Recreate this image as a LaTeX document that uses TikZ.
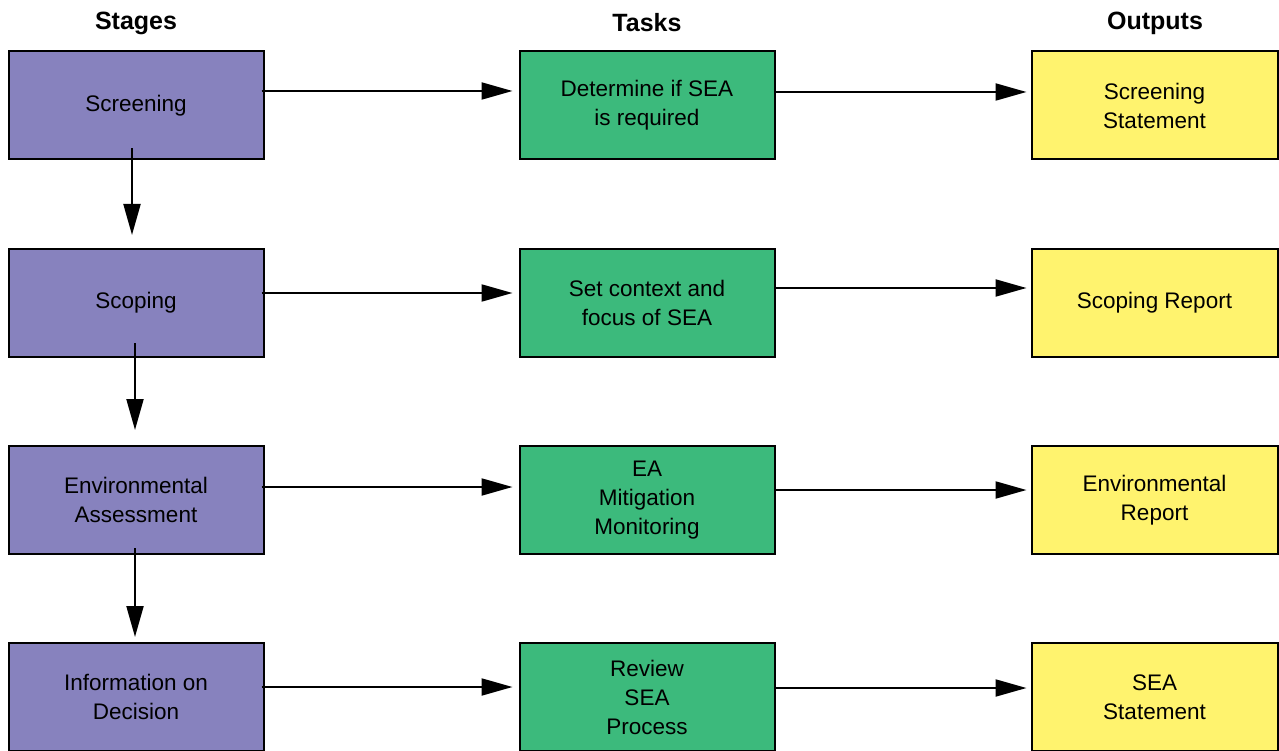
\documentclass[tikz,border=0pt]{standalone}
\usepackage{fontspec}
\setmainfont{Liberation Sans}
\usetikzlibrary{arrows.meta}
\definecolor{stagecol}{RGB}{135,130,190}
\definecolor{taskcol}{RGB}{60,186,124}
\definecolor{outcol}{RGB}{255,243,110}
\tikzset{
  box/.style={draw=black, line width=2pt, minimum height=108pt, inner sep=0pt, align=center,
    font=\fontsize{22.5}{29}\selectfont},
  stagebox/.style={box, fill=stagecol, minimum width=255pt},
  taskbox/.style={box, fill=taskcol, minimum width=255pt},
  outbox/.style={box, fill=outcol, minimum width=246pt},
  header/.style={font=\fontsize{25}{30}\selectfont\bfseries},
  arr/.style={line width=2pt, -{Triangle[length=31pt,width=17pt]}}
}
\begin{document}
\begin{tikzpicture}[x=1pt,y=-1pt]
\clip (0,0) rectangle (1279,751);
\fill[white] (0,0) rectangle (1279,751);
% headers
\node[header] (h1) at (136,23) {Stages};
\node[header] (h2) at (647,23) {Tasks};
\node[header] (h3) at (1155,23) {Outputs};
% stage boxes
\node[stagebox] (s1) at (136,105.5) {Screening};
\node[stagebox] (s2) at (136,303) {Scoping};
\node[stagebox] (s3) at (136,500) {Environmental\\Assessment};
\node[stagebox] (s4) at (136,697) {Information on\\Decision};
% task boxes
\node[taskbox] (t1) at (647,105.5) {Determine if SEA\\is required};
\node[taskbox] (t2) at (647,303) {Set context and\\focus of SEA};
\node[taskbox] (t3) at (647,500) {EA\\Mitigation\\Monitoring};
\node[taskbox] (t4) at (647,697) {Review\\SEA\\Process};
% output boxes
\node[outbox] (o1) at (1154.5,105.5) {Screening\\Statement};
\node[outbox] (o2) at (1154.5,303) {Scoping Report};
\node[outbox] (o3) at (1154.5,500) {Environmental\\Report};
\node[outbox] (o4) at (1154.5,697) {SEA\\Statement};
% stage -> task
\draw[arr] ([xshift=-3pt,yshift=14.5pt]s1.east) -- ([xshift=-6pt,yshift=14.5pt]t1.west);
\draw[arr] ([xshift=-3pt,yshift=10pt]s2.east) -- ([xshift=-6pt,yshift=10pt]t2.west);
\draw[arr] ([xshift=-3pt,yshift=13pt]s3.east) -- ([xshift=-6pt,yshift=13pt]t3.west);
\draw[arr] ([xshift=-3pt,yshift=10pt]s4.east) -- ([xshift=-6pt,yshift=10pt]t4.west);
% task -> output
\draw[arr] ([yshift=13.5pt]t1.east) -- ([xshift=-4pt,yshift=13.5pt]o1.west);
\draw[arr] ([yshift=15pt]t2.east) -- ([xshift=-4pt,yshift=15pt]o2.west);
\draw[arr] ([yshift=10pt]t3.east) -- ([xshift=-4pt,yshift=10pt]o3.west);
\draw[arr] ([yshift=9pt]t4.east) -- ([xshift=-4pt,yshift=9pt]o4.west);
% stage -> stage
\draw[arr] ([xshift=-4pt,yshift=12pt]s1.south) -- ([xshift=-4pt,yshift=13pt]s2.north);
\draw[arr] ([xshift=-1pt,yshift=15pt]s2.south) -- ([xshift=-1pt,yshift=15pt]s3.north);
\draw[arr] ([xshift=-1pt,yshift=7pt]s3.south) -- ([xshift=-1pt,yshift=5pt]s4.north);
\end{tikzpicture}
\end{document}
